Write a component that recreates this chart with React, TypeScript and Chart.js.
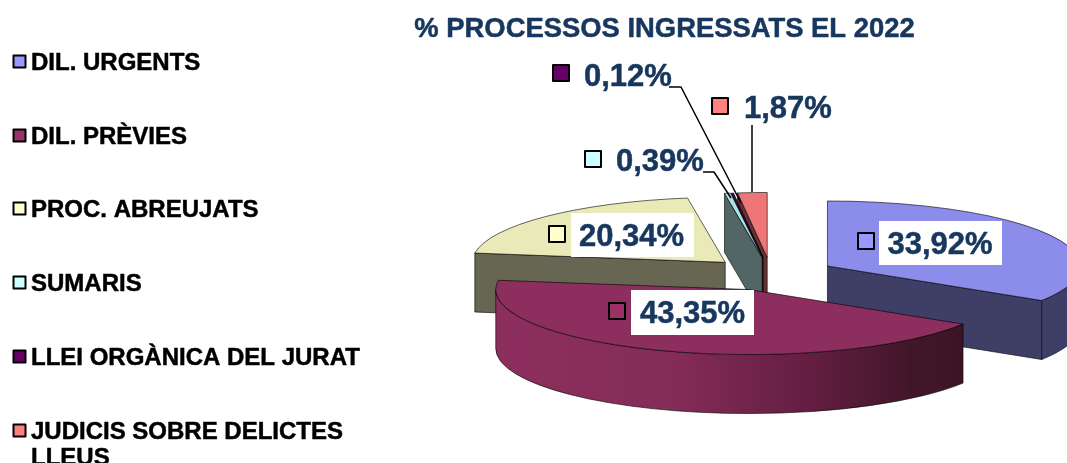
import React, { useEffect, useRef } from "react";
import { Chart, registerables } from "chart.js";

Chart.register(...registerables);

const categories = [
  "DIL. URGENTS",
  "DIL. PRÈVIES",
  "PROC. ABREUJATS",
  "SUMARIS",
  "LLEI ORGÀNICA DEL JURAT",
  "JUDICIS SOBRE DELICTES LLEUS",
];
const shares = [33.92, 43.35, 20.34, 0.39, 0.12, 1.87];
const title = "% PROCESSOS INGRESSATS EL 2022";

const keyColors = ["#9999FF", "#993366", "#FFFFCC", "#CCFFFF", "#660066", "#FF8080"];
const topColors = ["#8C8CEB", "#8D2F5E", "#EAEAB9", "#A8E4E4", "#5E005E", "#EE7676"];
const sideColors = ["#3E3E66", "#8D2F5E", "#666652", "#526666", "#290029", "#663333"];

const FONT = '"Liberation Sans", Arial, sans-serif';
const NAVY = "#17375E";
const CX = 771;
const CY = 274;
const RX = 253;
const RY = 65;
const DEPTH = 59;
const EXPLODE = 0.255;
const paintOrder = [2, 5, 4, 3, 0, 1];

// label layout: key box left, text left, text middle y, white box (or null)
const labelLayout = [
  { kx: 858, ky: 233, tx: 887.5, ty: 244, box: [879, 221, 123, 44] },
  { kx: 609, ky: 303, tx: 640, ty: 313, box: [631, 290, 123, 45] },
  { kx: 549, ky: 226, tx: 579, ty: 236, box: [571, 213, 123, 44] },
  { kx: 585, ky: 151, tx: 616, ty: 161, box: null },
  { kx: 553, ky: 65, tx: 584, ty: 76, box: null },
  { kx: 712, ky: 98, tx: 744, ty: 108, box: null },
];
const leaders = [
  [[703, 172], [714, 172], [731, 198]],
  [[669, 87], [681, 87], [741, 203]],
  [[752, 125], [752, 192]],
];
const legendY = [62, 136, 209, 283, 357, 431];

function wrap(ctx: CanvasRenderingContext2D, text: string, max: number): string[] {
  const lines: string[] = [];
  let line = "";
  for (const word of text.split(" ")) {
    const next = line ? line + " " + word : word;
    if (line && ctx.measureText(next).width > max) {
      lines.push(line);
      line = word;
    } else {
      line = next;
    }
  }
  lines.push(line);
  return lines;
}

const pie3d = {
  id: "pie3d",
  beforeDatasetDraw() {
    return false;
  },
  afterDatasetsDraw(chart: any) {
    const ctx: CanvasRenderingContext2D = chart.ctx;
    const arcs = chart.getDatasetMeta(0).data;
    ctx.save();
    ctx.lineJoin = "round";

    const boldText = (s: string, x: number, y: number, color: string) => {
      ctx.fillStyle = color;
      ctx.strokeStyle = color;
      ctx.lineWidth = 0.5;
      ctx.fillText(s, x, y);
      ctx.strokeText(s, x, y);
    };

    for (const i of paintOrder) {
      const a0: number = arcs[i].startAngle;
      const a1: number = arcs[i].endAngle;
      const mid = (a0 + a1) / 2;
      const x = CX + EXPLODE * RX * Math.cos(mid);
      const y = CY + EXPLODE * RY * Math.sin(mid);
      const px = (a: number) => x + RX * Math.cos(a);
      const py = (a: number) => y + RY * Math.sin(a);
      ctx.strokeStyle = "rgba(0,0,0,0.6)";
      ctx.lineWidth = 1;

      // straight cut faces, only those turned toward the viewer
      const faces: number[] = [];
      if (Math.cos(a0) < -1e-6) faces.push(a0);
      if (Math.cos(a1) > 1e-6) faces.push(a1);
      for (const a of faces) {
        ctx.beginPath();
        ctx.moveTo(x, y);
        ctx.lineTo(px(a), py(a));
        ctx.lineTo(px(a), py(a) + DEPTH);
        ctx.lineTo(x, y + DEPTH);
        ctx.closePath();
        ctx.fillStyle = sideColors[i];
        ctx.fill();
        ctx.stroke();
      }

      // outer wall, only the part facing the viewer
      const from = Math.max(a0, 0);
      const to = Math.min(a1, Math.PI);
      if (to > from) {
        ctx.beginPath();
        ctx.ellipse(x, y, RX, RY, 0, from, to);
        ctx.ellipse(x, y + DEPTH, RX, RY, 0, to, from, true);
        ctx.closePath();
        if (i === 1) {
          const g = ctx.createLinearGradient(x - RX, 0, x + RX, 0);
          g.addColorStop(0, "#8D2F5E");
          g.addColorStop(0.35, "#842C58");
          g.addColorStop(0.62, "#641E42");
          g.addColorStop(0.82, "#421629");
          g.addColorStop(1, "#381322");
          ctx.fillStyle = g;
        } else {
          ctx.fillStyle = sideColors[i];
        }
        ctx.fill();
        ctx.stroke();
      }

      // top face
      ctx.beginPath();
      ctx.moveTo(x, y);
      ctx.ellipse(x, y, RX, RY, 0, a0, a1);
      ctx.closePath();
      ctx.fillStyle = topColors[i];
      ctx.fill();
      ctx.stroke();
    }

    // leader lines
    ctx.strokeStyle = "#000";
    ctx.lineWidth = 1.5;
    for (const pts of leaders) {
      ctx.beginPath();
      pts.forEach(([a, b], k) => (k ? ctx.lineTo(a, b) : ctx.moveTo(a, b)));
      ctx.stroke();
    }

    // data labels
    ctx.textBaseline = "middle";
    ctx.textAlign = "left";
    shares.forEach((v, i) => {
      const l = labelLayout[i];
      if (l.box) {
        ctx.fillStyle = "#fff";
        ctx.fillRect(l.box[0], l.box[1], l.box[2], l.box[3]);
      }
      ctx.fillStyle = keyColors[i];
      ctx.strokeStyle = "#000";
      ctx.lineWidth = 2;
      ctx.fillRect(l.kx, l.ky, 16, 16);
      ctx.strokeRect(l.kx, l.ky, 16, 16);
      ctx.font = `bold 31px ${FONT}`;
      boldText(v.toFixed(2).replace(".", ",") + "%", l.tx, l.ty + 1, NAVY);
    });

    // title
    ctx.font = `bold 27.4px ${FONT}`;
    ctx.textAlign = "center";
    boldText(title, 664.5, 29, NAVY);

    // legend
    ctx.textAlign = "left";
    categories.forEach((name, i) => {
      ctx.fillStyle = keyColors[i];
      ctx.strokeStyle = "#000";
      ctx.lineWidth = 2;
      ctx.fillRect(13.5, legendY[i] - 6.5, 12, 12);
      ctx.strokeRect(13.5, legendY[i] - 6.5, 12, 12);
      ctx.font = `bold 24px ${FONT}`;
      wrap(ctx, name, 340).forEach((line, k) => {
        boldText(line, 31, legendY[i] + 1 + k * 26, "#000");
      });
    });
    ctx.restore();
  },
};

export default function App() {
  const ref = useRef<HTMLCanvasElement>(null);
  useEffect(() => {
    const chart = new Chart(ref.current as HTMLCanvasElement, {
      type: "pie",
      data: {
        labels: categories,
        datasets: [{ data: shares, backgroundColor: topColors, borderWidth: 0 }],
      },
      options: {
        responsive: false,
        animation: false,
        layout: { padding: { left: 475, top: 85 } },
        plugins: { legend: { display: false }, tooltip: { enabled: false } },
      },
      plugins: [pie3d],
    } as any);
    return () => chart.destroy();
  }, []);
  return (
    <div style={{ position: "absolute", left: 0, top: 0, width: 1067, height: 463, overflow: "hidden" }}>
      <canvas ref={ref} width={1067} height={463} style={{ display: "block" }} />
    </div>
  );
}
